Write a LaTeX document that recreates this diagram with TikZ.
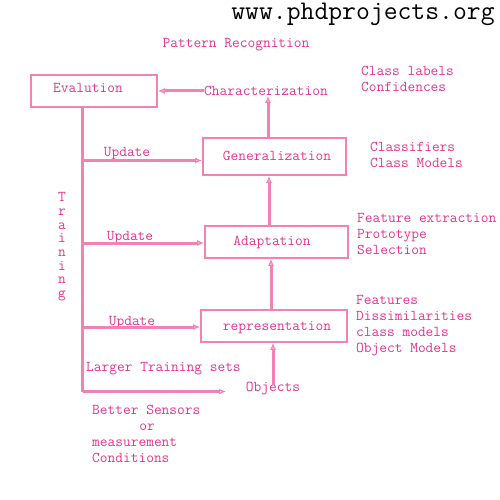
\documentclass[tikz,border=0pt]{standalone}
\usepackage{fontspec}
\usetikzlibrary{arrows.meta}
\definecolor{txt}{RGB}{228,52,140}
\definecolor{ln}{RGB}{240,130,180}
\tikzset{
  fnt/.style={font=\ttfamily\fontsize{15}{16}\selectfont},
  lbl/.style={fnt,text=txt,inner sep=0pt,text height=9.2pt,text depth=0pt},
  blk/.style={fnt,text=txt,inner sep=0pt,anchor=north west,align=left},
  box/.style={draw=ln,line width=1.8pt,inner sep=0pt},
  arr/.style={draw=ln,line width=3pt,-{Latex[open,length=7pt,width=6pt,line width=1.2pt]}},
  ln3/.style={draw=ln,line width=3pt},
}
\begin{document}
\begin{tikzpicture}[x=1pt,y=-1pt]
\useasboundingbox (0,0) rectangle (500,500);
\node[font=\ttfamily\fontsize{26.9}{28}\selectfont,inner sep=0pt,text height=16pt,text depth=0pt] (title) at (363,12) {www.phdprojects.org};
\node[lbl] (pr) at (236,43) {Pattern Recognition};

\node[box,minimum width=126pt,minimum height=32pt] (eval) at (94,91) {};
\node[lbl] (evaltxt) at (88,88) {Evalution};
\node[lbl] (char) at (266,91) {Characterization};
\node[box,minimum width=143pt,minimum height=37pt] (gen) at (274.5,156.5) {};
\node[lbl] (gentxt) at (277,156) {Generalization};
\node[box,minimum width=143pt,minimum height=32pt] (ada) at (276.5,242) {};
\node[lbl] (adatxt) at (272,241) {Adaptation};
\node[box,minimum width=146pt,minimum height=32pt] (rep) at (274,326) {};
\node[lbl] (reptxt) at (277,326) {representation};
\node[lbl] (obj) at (273,387) {Objects};

\node[blk] (cl) at (361,65.8) {Class labels\\Confidences};
\node[blk] (cf) at (370,141.8) {Classifiers\\Class Models};
\node[blk] (fe) at (357,212.8) {Feature extraction\\Prototype\\Selection};
\node[blk] (ft) at (356,294.8) {Features\\Dissimilarities\\class models\\Object Models};

\foreach \ch [count=\i from 0] in {T,r,a,i,n,i,n,g}
  \node[lbl] (tr\i) at (62,197+13.7*\i) {\ch};

\node[lbl] (u1) at (127,152) {Update};
\node[lbl] (u2) at (130,236) {Update};
\node[lbl] (u3) at (132,320.5) {Update};
\node[lbl,anchor=west] (lts) at (86,367) {Larger Training sets};
\node[blk] (bs) at (92,404.8) {Better Sensors\\\hspace*{3.15em}or\\measurement\\Conditions};

% connectors
\draw[arr] (char.west) -- (eval.east);
\draw[arr] ([xshift=-6.5pt]gen.north) -- ([xshift=-6.5pt]gen.north |- char.south);
\draw[arr] ([xshift=-7.5pt]ada.north) -- ([xshift=-7.5pt]ada.north |- gen.south);
\draw[arr] ([xshift=-3pt]rep.north) -- ([xshift=-3pt]rep.north |- ada.south);
\draw[arr] ([yshift=-3pt]obj.north) -- (obj.north |- rep.south);

\coordinate (top) at (82.5,107);
\coordinate (corner) at (82.5,391.5);
\coordinate (s1) at (82.5,160.5);
\coordinate (s2) at (82.5,243);
\coordinate (s3) at (82.5,327);
\coordinate (lend) at (226,391.5);
\draw[ln3] (top) -- (corner);
\draw[arr] (corner) -- (lend);
\draw[arr] (s1) -- (gen.west |- s1);
\draw[arr] (s2) -- (ada.west |- s2);
\draw[arr] (s3) -- (rep.west |- s3);
\end{tikzpicture}
\end{document}
